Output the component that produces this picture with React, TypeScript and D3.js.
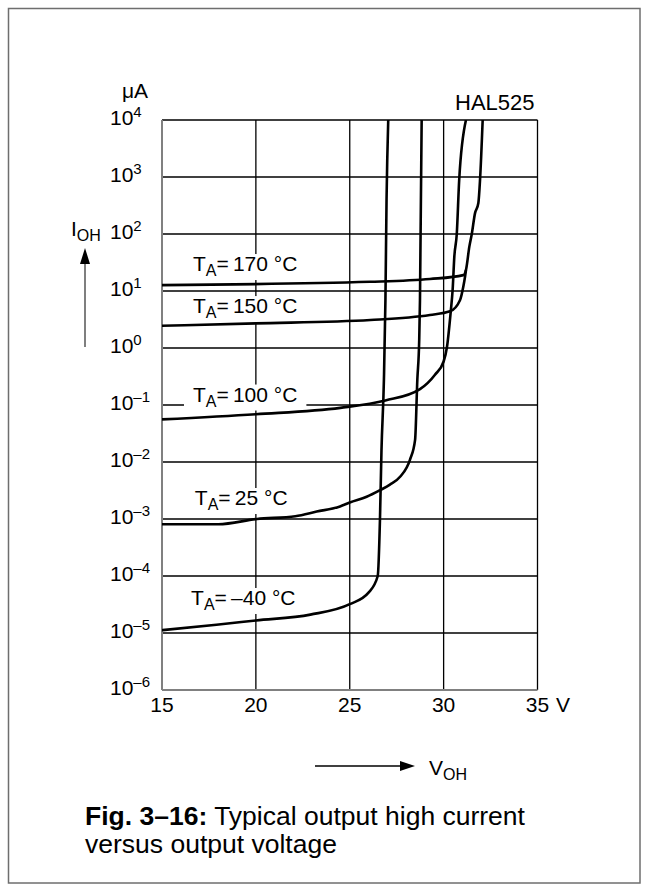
import React, { useEffect, useRef } from "react";
import * as d3 from "d3";

// Output voltage ticks (V) and current decades (µA, as powers of ten)
const voltTicks = [15, 20, 25, 30, 35];
const decadeExps = [-6, -5, -4, -3, -2, -1, 0, 1, 2, 3, 4];

// Curves: output voltage (V) and output high current (µA) per ambient temperature
const tMinus40V = [15, 17.9, 20.0, 22.9, 25.0, 26.0, 26.49, 26.61, 26.69, 26.82, 26.9, 26.96, 27.05];
const tMinus40I = [1.12e-5, 1.4e-5, 1.66e-5, 2.1e-5, 3.2e-5, 5.1e-5, 1e-4, 1e-3, 1.6e-2, 0.28, 6.9, 400, 1e4];

const t25V = [15, 18.0, 20.06, 22.1, 23.24, 24.48, 25.0, 25.9, 26.61, 27.14, 27.68, 28.21, 28.48, 28.6, 28.7, 28.74, 28.83];
const t25I = [8.1e-4, 8.1e-4, 1e-3, 1.12e-3, 1.35e-3, 1.66e-3, 1.95e-3, 2.45e-3, 3.2e-3, 4e-3, 5.5e-3, 1.1e-2, 2.45e-2, 0.28, 1.4, 6.9, 1e4];

const t100V = [15, 20, 24.5, 26.9, 28.74, 29.54, 30.0, 30.18, 30.38, 30.48, 30.57, 30.7, 30.83, 31.19];
const t100I = [0.056, 0.069, 0.089, 0.12, 0.19, 0.34, 0.58, 1.05, 4.4, 10.5, 40, 100, 900, 1e4];

const t150V = [15, 20, 26.1, 29.27, 30.34, 30.87, 31.05, 31.14, 31.19];
const t150I = [2.45, 2.7, 3.1, 3.8, 4.4, 6.9, 12, 17.8, 23.4];

const t170V = [15, 26.08, 29.27, 31.05, 31.19, 31.37, 31.5, 31.67, 31.85, 31.94, 32.08];
const t170I = [12.7, 14.5, 16.2, 19, 23.4, 60, 100, 230, 350, 900, 1e4];

// Temperature labels: text and baseline anchor (V, µA)
const labelTemps = ["170 °C", "150 °C", "100 °C", "25 °C", "–40 °C"];
const labelV = [16.65, 16.65, 16.65, 16.75, 16.55];
const labelI = [22.4, 4.1, 0.115, 1.76e-3, 3.1e-5];

const FONT = "'Liberation Sans', Arial, Helvetica, sans-serif";

export default function App() {
  const ref = useRef<SVGSVGElement | null>(null);

  useEffect(() => {
    const svg = d3.select(ref.current);
    svg.selectAll("*").remove();

    const left = 162, right = 537.5, top = 120, bottom = 690;
    const x = d3.scaleLinear().domain([15, 35]).range([left, right]);
    const y = d3.scaleLog().domain([1e-6, 1e4]).range([bottom, top]);

    // outer frame
    svg.append("rect")
      .attr("x", 8.5).attr("y", 8.5).attr("width", 631.5).attr("height", 874.5)
      .attr("fill", "none").attr("stroke", "#6e6e6e").attr("stroke-width", 1.5);

    const g = svg.append("g");

    // grid
    g.selectAll("line.hg").data(decadeExps.filter((e) => e > -6)).join("line")
      .attr("x1", left).attr("x2", right)
      .attr("y1", (e) => y(Math.pow(10, e))).attr("y2", (e) => y(Math.pow(10, e)))
      .attr("stroke", "#000").attr("stroke-width", 1.3);
    g.selectAll("line.vg").data(voltTicks.filter((v) => v > 15)).join("line")
      .attr("x1", (v) => x(v)).attr("x2", (v) => x(v))
      .attr("y1", top).attr("y2", bottom)
      .attr("stroke", "#000").attr("stroke-width", 1.3);

    // axes
    g.append("line").attr("x1", left).attr("x2", left).attr("y1", top).attr("y2", bottom)
      .attr("stroke", "#808080").attr("stroke-width", 2);
    g.append("line").attr("x1", left).attr("x2", right).attr("y1", bottom).attr("y2", bottom)
      .attr("stroke", "#808080").attr("stroke-width", 2);

    // clip for curves
    svg.append("defs").append("clipPath").attr("id", "plotClip")
      .append("rect").attr("x", left).attr("y", top).attr("width", right - left).attr("height", bottom - top);

    const line = d3.line<[number, number]>()
      .x((d) => x(d[0])).y((d) => y(d[1]))
      .curve(d3.curveMonotoneX);

    const series: [number[], number[]][] = [
      [tMinus40V, tMinus40I],
      [t25V, t25I],
      [t100V, t100I],
      [t150V, t150I],
      [t170V, t170I],
    ];

    // temperature labels with white backing (drawn before the curves)
    labelTemps.forEach((t, i) => {
      const lg = g.append("g");
      const tx = x(labelV[i]);
      const ty = y(labelI[i]);
      const text = lg.append("text")
        .attr("x", tx).attr("y", ty)
        .attr("font-family", FONT).attr("font-size", 21).attr("fill", "#000");
      text.append("tspan").text("T");
      text.append("tspan").attr("font-size", 16).attr("dy", 5).text("A");
      text.append("tspan").attr("dy", -5).text("=" + "\u2009" + t);
      const bb = (text.node() as SVGTextElement).getBBox();
      lg.insert("rect", "text")
        .attr("x", bb.x - 9).attr("y", bb.y + 2)
        .attr("width", bb.width + 18).attr("height", bb.height - 1)
        .attr("fill", "#fff");
    });

    const curves = g.append("g").attr("clip-path", "url(#plotClip)");
    series.forEach(([vs, is]) => {
      curves.append("path")
        .attr("d", line(vs.map((v, i) => [v, is[i]] as [number, number])))
        .attr("fill", "none").attr("stroke", "#000").attr("stroke-width", 2.6)
        .attr("stroke-linejoin", "round");
    });

    // y tick labels
    const yl = svg.append("g").attr("font-family", FONT).attr("fill", "#000");
    decadeExps.forEach((e) => {
      const t = yl.append("text").attr("x", 110).attr("y", y(Math.pow(10, e)) + 5).attr("font-size", 21);
      t.append("tspan").text("10");
      t.append("tspan").attr("font-size", 15).attr("dy", -8).text(e < 0 ? "–" + Math.abs(e) : String(e));
    });

    // x tick labels
    voltTicks.forEach((v) => {
      yl.append("text").attr("x", x(v)).attr("y", 712).attr("text-anchor", "middle")
        .attr("font-size", 21).text(String(v));
    });
    yl.append("text").attr("x", 556).attr("y", 712).attr("font-size", 21).text("V");

    // unit and title
    yl.append("text").attr("x", 122).attr("y", 98).attr("font-size", 21).text("μA");
    yl.append("text").attr("x", 455).attr("y", 110)
      .attr("font-size", 22).text("HAL525");

    // I_OH label and arrow
    const iot = yl.append("text").attr("x", 71).attr("y", 236).attr("font-size", 21);
    iot.append("tspan").text("I");
    iot.append("tspan").attr("font-size", 16).attr("dy", 5).text("OH");
    svg.append("line").attr("x1", 85).attr("x2", 85).attr("y1", 347).attr("y2", 262)
      .attr("stroke", "#555").attr("stroke-width", 1.5);
    svg.append("path").attr("d", "M85,248 L80,264 L90,264 Z").attr("fill", "#000");

    // V_OH label and arrow
    svg.append("line").attr("x1", 315).attr("x2", 402).attr("y1", 766).attr("y2", 766)
      .attr("stroke", "#000").attr("stroke-width", 1.5);
    svg.append("path").attr("d", "M415,766 L400,761 L400,771 Z").attr("fill", "#000");
    const vot = yl.append("text").attr("x", 429).attr("y", 775).attr("font-size", 21);
    vot.append("tspan").text("V");
    vot.append("tspan").attr("font-size", 16).attr("dy", 5).text("OH");

    // caption
    const cap = yl.append("text").attr("x", 85).attr("y", 825).attr("font-size", 26.5);
    cap.append("tspan").attr("font-weight", "bold").text("Fig. 3–16:");
    cap.append("tspan").text(" Typical output high current");
    yl.append("text").attr("x", 85).attr("y", 853).attr("font-size", 26.5).text("versus output voltage");
  }, []);

  return (
    <svg
      ref={ref}
      width={648}
      height={891}
      style={{ position: "absolute", left: 0, top: 0, background: "#fff" }}
    />
  );
}
